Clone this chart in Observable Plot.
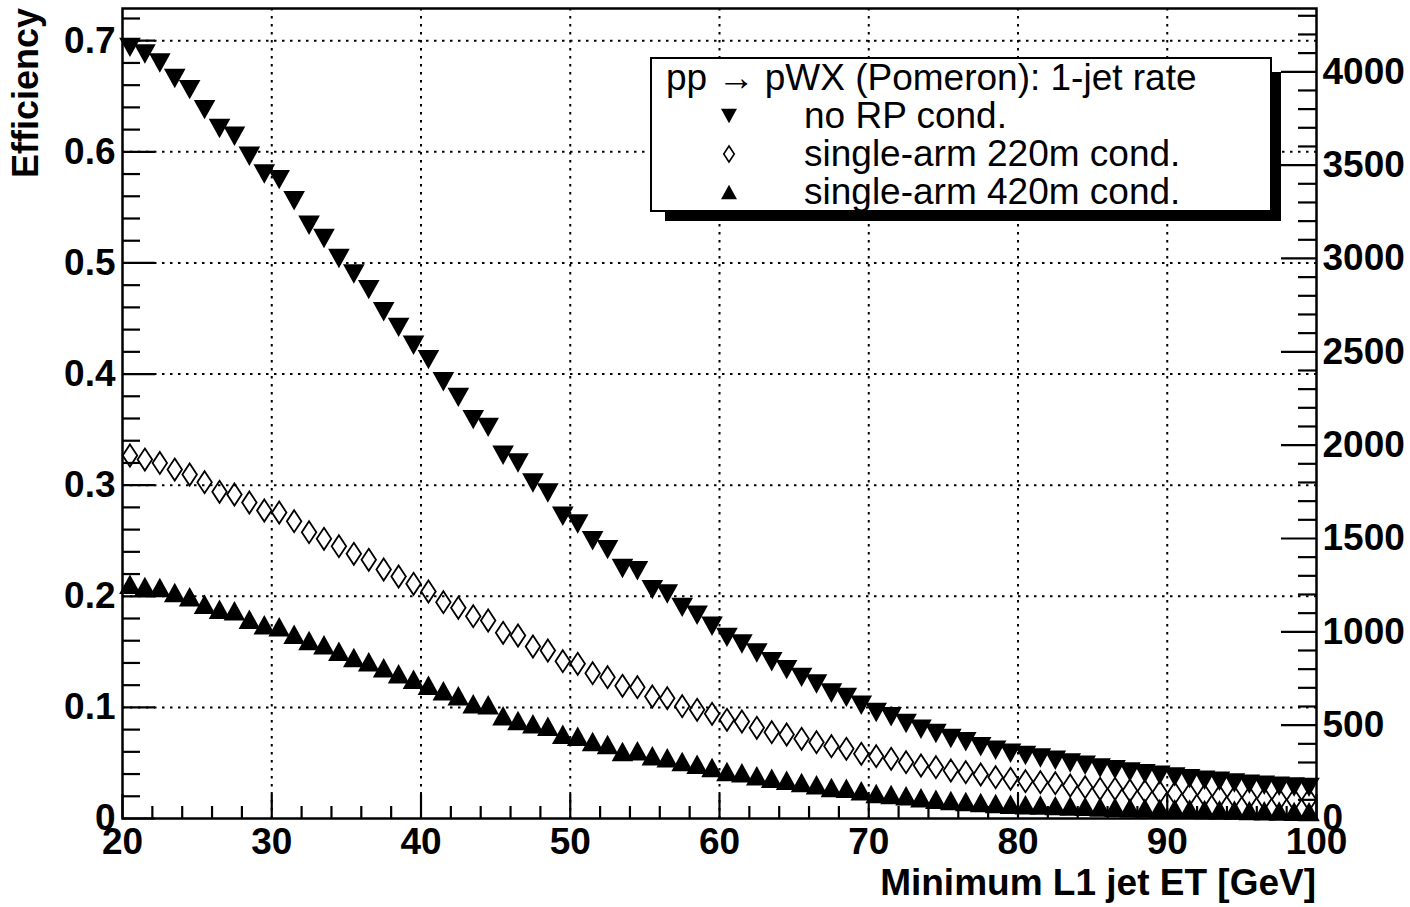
<!DOCTYPE html>
<html><head><meta charset="utf-8">
<script src="https://cdn.jsdelivr.net/npm/d3@7"></script>
<script src="https://cdn.jsdelivr.net/npm/@observablehq/plot@0.6"></script>
<style>body{margin:0;background:#fff}</style>
</head><body><div id="chart"></div>
<script>
// ---- data (1 GeV bins, bin centres) ----
const etBins = [20.5,21.5,22.5,23.5,24.5,25.5,26.5,27.5,28.5,29.5,30.5,31.5,32.5,33.5,34.5,35.5,36.5,37.5,38.5,39.5,
40.5,41.5,42.5,43.5,44.5,45.5,46.5,47.5,48.5,49.5,50.5,51.5,52.5,53.5,54.5,55.5,56.5,57.5,58.5,59.5,
60.5,61.5,62.5,63.5,64.5,65.5,66.5,67.5,68.5,69.5,70.5,71.5,72.5,73.5,74.5,75.5,76.5,77.5,78.5,79.5,
80.5,81.5,82.5,83.5,84.5,85.5,86.5,87.5,88.5,89.5,90.5,91.5,92.5,93.5,94.5,95.5,96.5,97.5,98.5,99.5];

const noRP = [0.694,0.688,0.680,0.666,0.656,0.638,0.621,0.614,0.596,0.580,0.575,0.556,0.534,0.522,0.504,0.490,0.476,0.456,0.442,0.426,
0.413,0.393,0.379,0.359,0.352,0.327,0.320,0.302,0.293,0.272,0.265,0.250,0.242,0.225,0.223,0.206,0.202,0.190,0.183,0.173,
0.163,0.157,0.149,0.141,0.134,0.127,0.121,0.113,0.109,0.102,0.0954,0.0915,0.0855,0.0804,0.0765,0.072,0.069,0.0645,0.0615,0.0588,
0.0567,0.0545,0.0524,0.050,0.0479,0.0455,0.044,0.0419,0.0403,0.0389,0.0374,0.0358,0.0344,0.0335,0.032,0.0308,0.0299,0.029,0.0284,0.028];

const arm220 = [0.3267,0.323,0.320,0.314,0.3096,0.3027,0.294,0.2916,0.2844,0.2772,0.2754,0.2676,0.2577,0.2517,0.2451,0.2382,0.2328,0.2241,0.2178,0.2112,
0.2043,0.1947,0.1896,0.1821,0.1782,0.1671,0.1647,0.1548,0.1512,0.1416,0.1392,0.1308,0.1272,0.1194,0.1182,0.1098,0.1083,0.1011,0.0978,0.0942,
0.0888,0.0873,0.0816,0.0777,0.0756,0.0717,0.0687,0.0651,0.0627,0.0582,0.0561,0.0537,0.0507,0.0477,0.0462,0.0432,0.0417,0.0396,0.0372,0.0357,
0.0336,0.0327,0.0318,0.0297,0.0282,0.0267,0.0267,0.0252,0.0246,0.0237,0.0228,0.0216,0.0207,0.0198,0.0192,0.0186,0.0177,0.0171,0.0168,0.0168];

const arm420 = [0.2109,0.2088,0.2079,0.2034,0.1995,0.1929,0.1884,0.1869,0.1794,0.1743,0.1725,0.1659,0.1602,0.1563,0.1506,0.1449,0.141,0.1356,0.1302,0.1254,
0.12,0.1149,0.1104,0.1032,0.1023,0.0925,0.0882,0.0852,0.0831,0.0759,0.0741,0.0693,0.0666,0.0603,0.0609,0.0564,0.0546,0.0513,0.0489,0.0459,
0.0423,0.0411,0.0384,0.0363,0.0345,0.0324,0.0303,0.0279,0.0273,0.0249,0.0225,0.0216,0.0204,0.0186,0.0174,0.0162,0.0153,0.0144,0.0135,0.0129,
0.0124,0.0121,0.0116,0.0112,0.0109,0.0104,0.0101,0.0097,0.0094,0.0091,0.0087,0.0085,0.0081,0.0078,0.0076,0.0072,0.0070,0.0067,0.0064,0.0062];

const seriesNames = ["no RP cond.", "single-arm 220m cond.", "single-arm 420m cond."];
const legendHeader = "pp \u2192 pWX (Pomeron): 1-jet rate";
const xTitle = "Minimum L1 jet ET [GeV]";
const yTitle = "Efficiency";

const xDomain = [20, 100];
const yDomain = [0, 0.729];
const xTickLabels = [20,30,40,50,60,70,80,90,100];
const xGrid = [30,40,50,60,70,80,90];
const xMinor = [22,24,26,28,32,34,36,38,42,44,46,48,52,54,56,58,62,64,66,68,72,74,76,78,82,84,86,88,92,94,96,98];
const effTicks = [0,0.1,0.2,0.3,0.4,0.5,0.6,0.7];
const effTickText = ["0","0.1","0.2","0.3","0.4","0.5","0.6","0.7"];
const effGrid = [0.1,0.2,0.3,0.4,0.5,0.6,0.7];
const effMinor = [0.02,0.04,0.06,0.08,0.12,0.14,0.16,0.18,0.22,0.24,0.26,0.28,0.32,0.34,0.36,0.38,0.42,0.44,0.46,0.48,0.52,0.54,0.56,0.58,0.62,0.64,0.66,0.68,0.72];
const rateFactor = 5952; // rate units per unit efficiency (right axis)
const rateTicks = [0,500,1000,1500,2000,2500,3000,3500,4000];
const rateMinor = [100,200,300,400,600,700,800,900,1100,1200,1300,1400,1600,1700,1800,1900,2100,2200,2300,2400,2600,2700,2800,2900,3100,3200,3300,3400,3600,3700,3800,3900,4100,4200,4300];

// ---- layout ----
const W = 1410, H = 907;
const mL = 122, mR = 94, mT = 8, mB = 89;
const fW = W - mL - mR, fH = H - mT - mB;
const FONT = "'Liberation Sans', Arial, Helvetica, sans-serif";

// ---- custom ROOT-like markers ----
const downTri = {draw(c, size){ const s = Math.sqrt(size/Math.PI); const w = s, h = s*0.9;
  c.moveTo(-w,-h); c.lineTo(w,-h); c.lineTo(0,h); c.closePath(); }};
const upTri = {draw(c, size){ const s = Math.sqrt(size/Math.PI); const w = s, h = s*0.9;
  c.moveTo(0,-h); c.lineTo(w,h); c.lineTo(-w,h); c.closePath(); }};
const tallDiamond = {draw(c, size){ const s = Math.sqrt(size/Math.PI); const w = s*0.66, h = s;
  c.moveTo(0,-h); c.lineTo(w,0); c.lineTo(0,h); c.lineTo(-w,0); c.closePath(); }};

const rows = (vals) => etBins.map((x,i) => ({x, y: vals[i]}));

const tickStyle = {stroke: "black", strokeWidth: 2.2};
const gridStyle = {stroke: "black", strokeOpacity: 1, strokeWidth: 2, strokeDasharray: "2.5,5.5"};
const labelStyle = {fontSize: 37, fontWeight: "bold", fill: "black", label: null};

const plot = Plot.plot({
  width: W, height: H,
  marginLeft: mL, marginRight: mR, marginTop: mT, marginBottom: mB,
  style: {fontFamily: FONT, background: "white", color: "black", overflow: "visible"},
  x: {domain: xDomain, axis: null},
  y: {domain: yDomain, axis: null},
  marks: [
    Plot.gridX(xGrid, gridStyle),
    Plot.gridY(effGrid, gridStyle),
    // inward ticks
    Plot.ruleX(xTickLabels, {...tickStyle, insetTop: fH - 24}),
    Plot.ruleX(xMinor, {...tickStyle, insetTop: fH - 12}),
    Plot.ruleY(effTicks, {...tickStyle, insetRight: fW - 33}),
    Plot.ruleY(effMinor, {...tickStyle, insetRight: fW - 18}),
    Plot.ruleY(rateTicks.map(r => r / rateFactor), {...tickStyle, insetLeft: fW - 35}),
    Plot.ruleY(rateMinor.map(r => r / rateFactor), {...tickStyle, insetLeft: fW - 18}),
    // tick labels
    Plot.axisX(xTickLabels, {anchor: "bottom", tickSize: 0, tickPadding: 9, ...labelStyle}),
    Plot.axisY(effTicks, {anchor: "left", tickSize: 0, tickPadding: 7,
      tickFormat: d => effTickText[effTicks.indexOf(d)], ...labelStyle}),
    Plot.axisY(rateTicks.map(r => r / rateFactor), {anchor: "right", tickSize: 0, tickPadding: 6,
      tickFormat: d => d3.format("d")(Math.round(d * rateFactor / 100) * 100), ...labelStyle}),
    // data
    Plot.dot(rows(noRP), {x: "x", y: "y", symbol: downTri, r: 10.8, fill: "black", stroke: "none"}),
    Plot.dot(rows(arm220), {x: "x", y: "y", symbol: tallDiamond, r: 11, fill: "none", stroke: "black", strokeWidth: 1.8}),
    Plot.dot(rows(arm420), {x: "x", y: "y", symbol: upTri, r: 10.8, fill: "black", stroke: "none"}),
    Plot.frame({stroke: "black", strokeWidth: 2.5})
  ]
});

const svg = d3.select(plot);
// axis titles
svg.append("text").attr("x", W - mR).attr("y", 895).attr("text-anchor", "end")
  .attr("font-family", FONT).attr("font-size", 37).attr("font-weight", "bold").attr("fill", "black").text(xTitle);
svg.append("text").attr("transform", "translate(38,8) rotate(-90)").attr("text-anchor", "end")
  .attr("font-family", FONT).attr("font-size", 36).attr("font-weight", "bold").attr("fill", "black").text(yTitle);

// legend box with ROOT-like shadow
const lg = svg.append("g").attr("font-family", FONT).attr("font-size", 37).attr("text-anchor", "start").attr("fill", "black");
lg.append("rect").attr("x", 665).attr("y", 72).attr("width", 616).attr("height", 149).attr("fill", "black");
lg.append("rect").attr("x", 651).attr("y", 58).attr("width", 620).attr("height", 153)
  .attr("fill", "white").attr("stroke", "black").attr("stroke-width", 2);
lg.append("text").attr("x", 666).attr("y", 90).attr("text-anchor", "start").text(legendHeader);
const legSyms = [
  {sym: downTri, fill: "black", stroke: "none"},
  {sym: tallDiamond, fill: "none", stroke: "black"},
  {sym: upTri, fill: "black", stroke: "none"}
];
seriesNames.forEach((name, i) => {
  const cy = 116 + 38 * i;
  lg.append("path").attr("transform", `translate(729,${cy})`)
    .attr("d", d3.symbol().type(legSyms[i].sym).size(8 * 8 * Math.PI)())
    .attr("fill", legSyms[i].fill).attr("stroke", legSyms[i].stroke).attr("stroke-width", 1.6);
  lg.append("text").attr("x", 804).attr("y", cy + 12).attr("text-anchor", "start").text(name);
});

document.getElementById("chart").appendChild(plot);
</script>
</body></html>
